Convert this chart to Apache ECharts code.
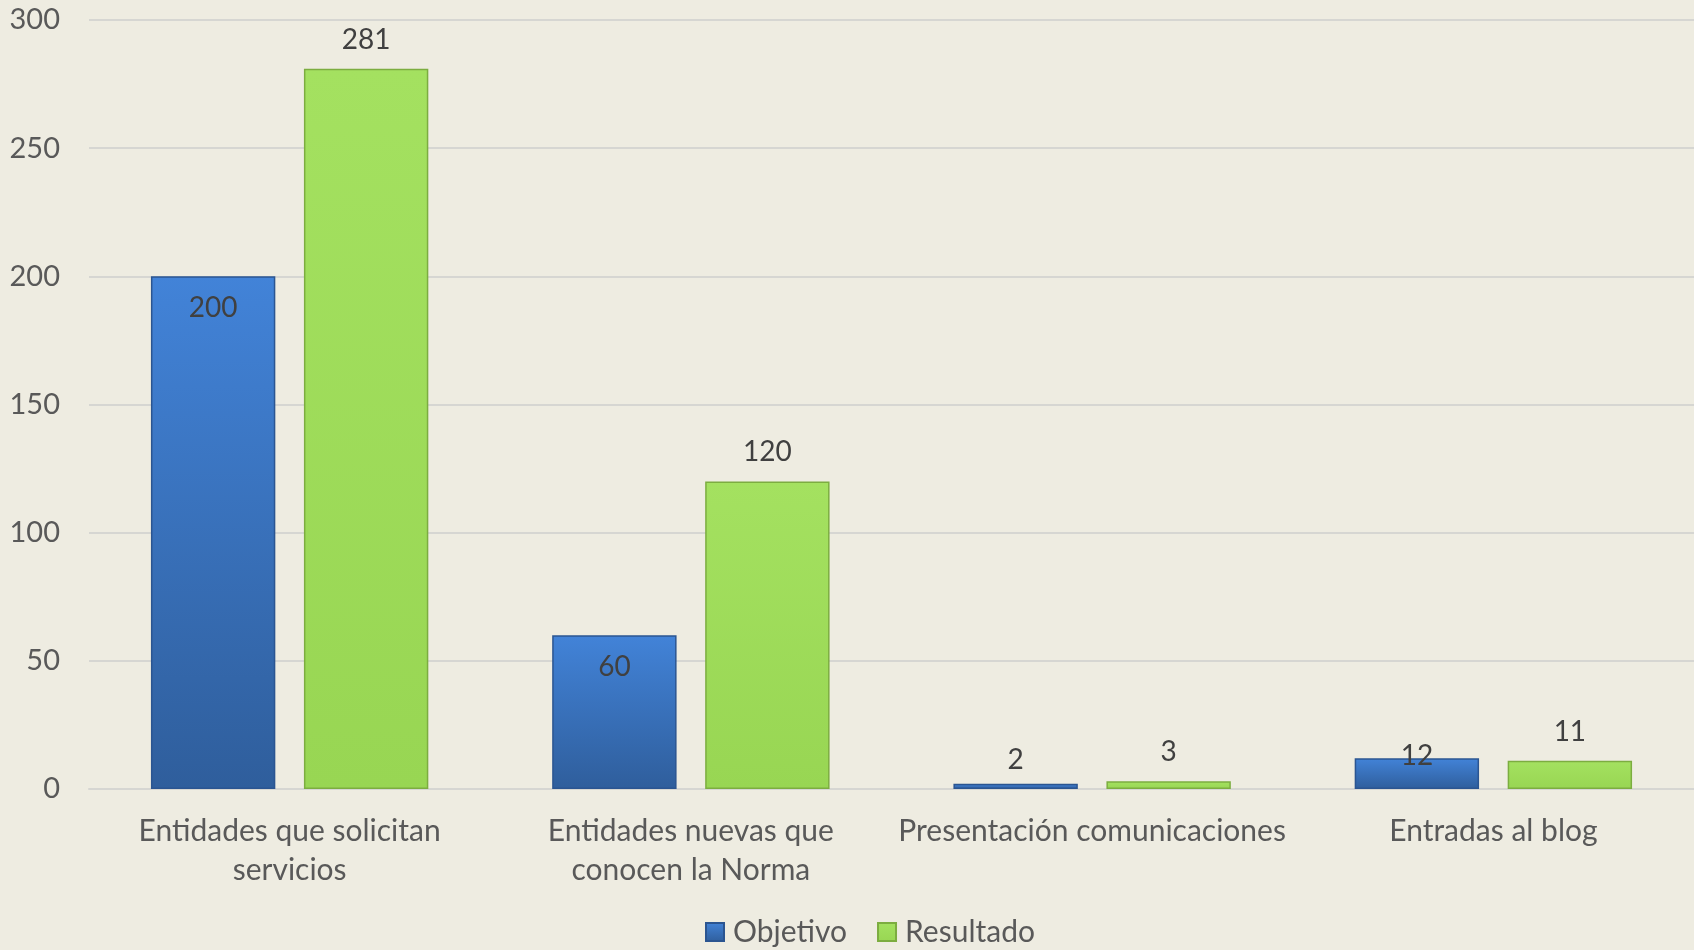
<!DOCTYPE html>
<html>
<head>
<meta charset="utf-8">
<script src="https://cdn.jsdelivr.net/npm/echarts@6/dist/echarts.min.js"></script>
<style>
  html, body { margin: 0; padding: 0; background: #eeece1; }
  #chart { width: 1694px; height: 950px; }
</style>
</head>
<body>
<div id="chart"></div>
<script>
// data
const categories = ['Entidades que solicitan\nservicios', 'Entidades nuevas que\nconocen la Norma', 'Presentación comunicaciones', 'Entradas al blog']
const objetivo = [200, 60, 2, 12]
const resultado = [281, 120, 3, 11]
const seriesNames = ['Objetivo', 'Resultado']

const font = 'Lato, "Open Sans", sans-serif'

// blue labels sit inside the top of tall bars, above / on short ones (like Excel)
const blueData = objetivo.map(v => {
    if (v >= 50) return { value: v, label: { position: 'insideTop', distance: 18 } }
    if (v >= 10) return { value: v, label: { position: 'insideTop', distance: -16 } }
    return { value: v, label: { position: 'top', distance: 10 } }
})

const chart = echarts.init(document.getElementById('chart'))
chart.setOption({
    backgroundColor: '#eeece1',
    textStyle: { fontFamily: font },
    animation: false,
    grid: { left: 89, right: 0, top: 20, bottom: 161, containLabel: false },
    legend: {
        bottom: -2,
        left: 700,
        itemWidth: 18,
        itemHeight: 18,
        itemGap: 30,
        icon: 'rect',
        textStyle: { fontSize: 30, color: '#595959', fontFamily: font, padding: [0, 0, 0, 4] },
        data: seriesNames
    },
    xAxis: {
        type: 'category',
        data: categories,
        axisLine: { lineStyle: { color: '#d6d6d2', width: 2 } },
        axisTick: { show: false },
        axisLabel: { fontSize: 30, color: '#595959', lineHeight: 39, margin: 23, interval: 0 }
    },
    yAxis: {
        type: 'value',
        min: 0,
        max: 300,
        interval: 50,
        axisLine: { show: false },
        axisTick: { show: false },
        splitLine: { lineStyle: { color: '#d6d6d2', width: 2 } },
        axisLabel: { fontSize: 29, color: '#595959', margin: 29 }
    },
    series: [
        {
            name: seriesNames[0],
            type: 'bar',
            barWidth: '31%',
            barGap: '23%',
            data: blueData,
            itemStyle: {
                color: new echarts.graphic.LinearGradient(0, 0, 0, 1, [
                    { offset: 0, color: '#4283d8' },
                    { offset: 1, color: '#2f5e9c' }
                ]),
                borderColor: '#2b5591',
                borderWidth: 1.5
            },
            label: { show: true, fontSize: 28, color: '#404040' }
        },
        {
            name: seriesNames[1],
            type: 'bar',
            barWidth: '31%',
            data: resultado,
            itemStyle: {
                color: new echarts.graphic.LinearGradient(0, 0, 0, 1, [
                    { offset: 0, color: '#a4e160' },
                    { offset: 1, color: '#98d653' }
                ]),
                borderColor: '#7cad40',
                borderWidth: 1.5
            },
            label: { show: true, position: 'top', distance: 15, fontSize: 28, color: '#404040' }
        }
    ]
})
</script>
</body>
</html>
